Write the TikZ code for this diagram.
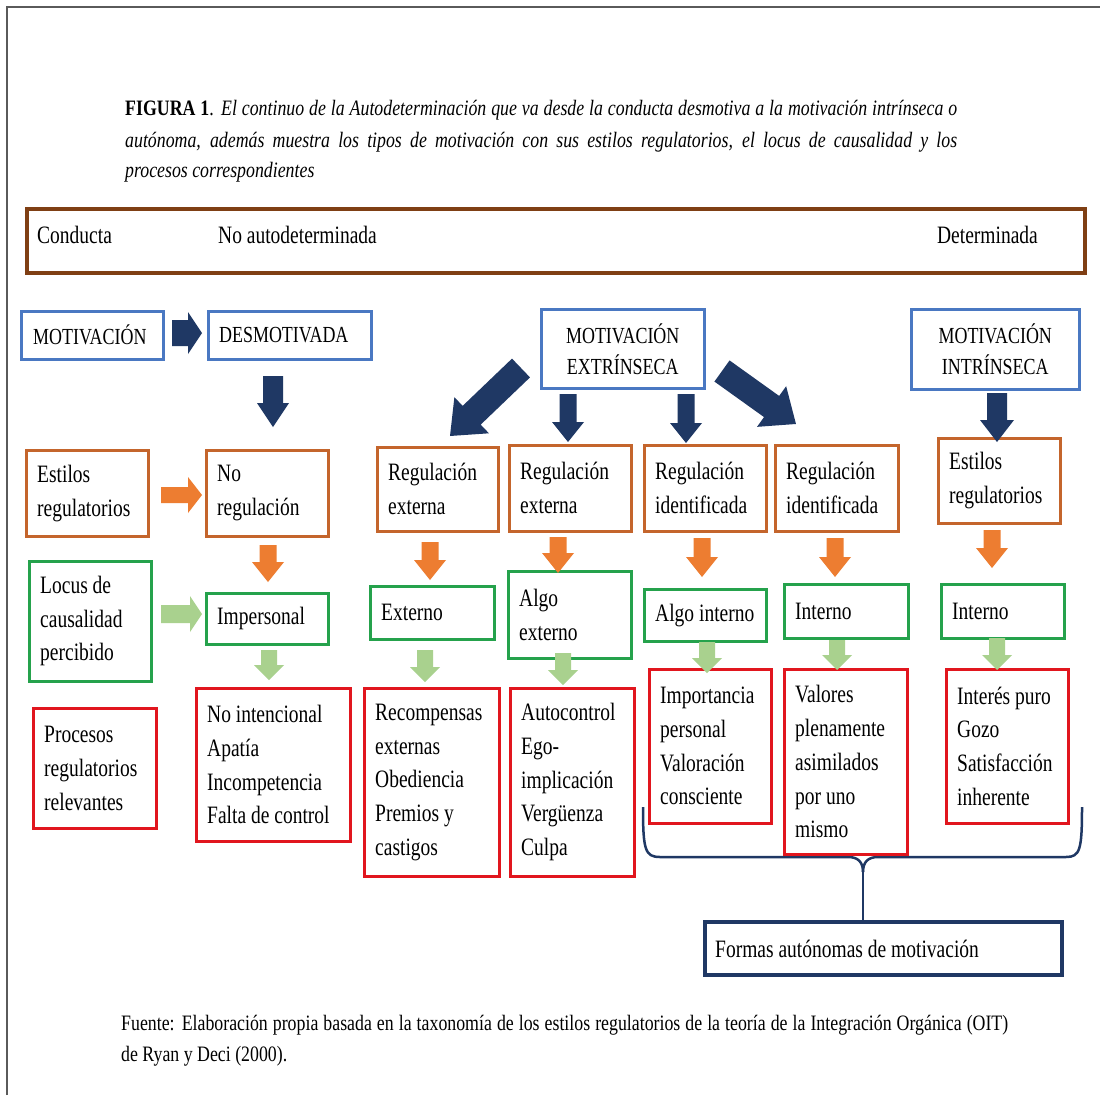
\documentclass[tikz,border=0pt]{standalone}
\usepackage{fontspec}
\setmainfont{Liberation Serif}[FakeStretch=0.78]
\newfontfamily\titlefont{Liberation Serif}[FakeStretch=0.81]
\newfontfamily\footfont{Liberation Serif}[FakeStretch=0.81]
\usetikzlibrary{calc}
\definecolor{navy}{HTML}{1F3864}
\definecolor{blueb}{HTML}{4A78C2}
\definecolor{brownb}{HTML}{7F3F14}
\definecolor{orangeb}{HTML}{C4652C}
\definecolor{orangea}{HTML}{ED7D31}
\definecolor{greenb}{HTML}{25A24C}
\definecolor{greena}{HTML}{A9D18E}
\definecolor{redb}{HTML}{E1161E}
\definecolor{framec}{HTML}{5A5A5A}
\newcommand\bodyfont{\fontsize{25}{33.7}\selectfont}
\newcommand\capsfont{\fontsize{23}{31}\selectfont}
% block arrow: start, end, shaft half width, head half width, head length, colour
\newcommand\barrow[6]{%
\fill[#6] let \p1=($(#2)-(#1)$), \n1={veclen(\x1,\y1)}, \n2={atan2(\y1,\x1)} in
([shift={(#1)},rotate=\n2]0pt,#3) -- ([shift={(#1)},rotate=\n2]\n1-#5,#3)
-- ([shift={(#1)},rotate=\n2]\n1-#5,#4) -- ([shift={(#1)},rotate=\n2]\n1,0pt)
-- ([shift={(#1)},rotate=\n2]\n1-#5,-#4) -- ([shift={(#1)},rotate=\n2]\n1-#5,-#3)
-- ([shift={(#1)},rotate=\n2]0pt,-#3) -- cycle;}
% box: name, x1, y1, x2, y2, style, text
\newcommand\bx[7]{%
\node[#6, anchor=north west, minimum width={#4-#2}, minimum height={#5-#3}] (#1) at (#2,#3) {};
\node[txt] (#1t) at ([xshift=12pt]#1.west) {#7};}
\newcommand\cbx[7]{%
\node[#6, anchor=north west, minimum width={#4-#2}, minimum height={#5-#3}] (#1) at (#2,#3) {};
\node[txt, anchor=center, align=center, font=\capsfont] (#1t) at (#1.center) {#7};}
\begin{document}
\begin{tikzpicture}[x=1pt,y=-1pt,
  boxbase/.style={draw, rectangle, inner sep=0pt, fill=white},
  bluebox/.style={boxbase, draw=blueb, line width=2.5pt},
  orangebox/.style={boxbase, draw=orangeb, line width=2.5pt},
  greenbox/.style={boxbase, draw=greenb, line width=2.5pt},
  redbox/.style={boxbase, draw=redb, line width=2.5pt},
  navybox/.style={boxbase, draw=navy, line width=4pt},
  brownbox/.style={boxbase, draw=brownb, line width=4pt},
  txt/.style={inner sep=0pt, align=left, font=\bodyfont, anchor=west},
  brace/.style={draw=navy, line width=2.5pt, line join=round}]
\useasboundingbox (0,0) rectangle (1100,1095);
\fill[white] (0,0) rectangle (1100,1095);
\draw[framec, line width=2pt] (7,1095) -- (7,7) -- (1100,7);

% title
\node[inner sep=0pt, anchor=base west, font=\titlefont\fontsize{22}{31}\selectfont] (t1) at (125,115)
  {\makebox[832pt][s]{\textbf{FIGURA 1}. \textit{El continuo de la Autodeterminación que va desde la conducta desmotiva a la motivación intrínseca o}}};
\node[inner sep=0pt, anchor=base west, font=\titlefont\fontsize{22}{31}\selectfont] (t2) at (125,147)
  {\makebox[832pt][s]{\textit{autónoma, además muestra los tipos de motivación con sus estilos regulatorios, el locus de causalidad y los}}};
\node[inner sep=0pt, anchor=base west, font=\titlefont\fontsize{22}{31}\selectfont] (t3) at (125,177)
  {\textit{procesos correspondientes}};

% conducta bar
\node[brownbox, anchor=north west, minimum width=1058, minimum height=64] (cond) at (25,207) {};
\node[inner sep=0pt, anchor=base west, font=\bodyfont] (c1) at (37,243) {Conducta};
\node[inner sep=0pt, anchor=base west, font=\bodyfont] (c2) at (218,243) {No autodeterminada};
\node[inner sep=0pt, anchor=base east, font=\bodyfont] (c3) at (1038,243) {Determinada};

% brace
\draw[brace] (643,807) .. controls (643,850) and (645,857) .. (660,857) -- (848,857)
  .. controls (858,857) and (863,862) .. (863,872);
\draw[brace] (1082,807) .. controls (1082,850) and (1080,857) .. (1066,857) -- (878,857)
  .. controls (868,857) and (863,862) .. (863,872);
\coordinate (cusp) at (863,872);

% row 1
\node[bluebox, anchor=north west, minimum width=142, minimum height=48] (mot) at (20,310) {};
\node[txt, font=\capsfont] (mott) at ([xshift=13pt]mot.west) {MOTIVACIÓN};
\node[bluebox, anchor=north west, minimum width=163, minimum height=48] (des) at (207,310) {};
\node[txt, font=\capsfont] (dest) at ([xshift=12pt]des.west) {DESMOTIVADA};
\cbx{ext}{540}{308}{703}{387}{bluebox}{MOTIVACIÓN\\EXTRÍNSECA}
\cbx{int}{910}{308}{1078}{388}{bluebox}{MOTIVACIÓN\\INTRÍNSECA}

% row 2
\bx{est1}{25}{449}{147}{535}{orangebox}{Estilos\\regulatorios}
\bx{noreg}{205}{449}{327}{535}{orangebox}{No\\regulación}
\bx{re1}{376}{446}{497}{530}{orangebox}{Regulación\\externa}
\bx{re2}{508}{444}{630}{530}{orangebox}{Regulación\\externa}
\bx{ri1}{643}{444}{765}{530}{orangebox}{Regulación\\identificada}
\bx{ri2}{774}{444}{897}{530}{orangebox}{Regulación\\identificada}
\bx{est2}{937}{437}{1059}{522}{orangebox}{Estilos\\regulatorios}

% row 3
\bx{loc}{28}{560}{150}{680}{greenbox}{Locus de\\causalidad\\percibido}
\bx{imp}{205}{592}{327}{643}{greenbox}{Impersonal}
\bx{ex1}{369}{585}{493}{638}{greenbox}{Externo}
\bx{aext}{507}{570}{630}{657}{greenbox}{Algo\\externo}
\bx{aint}{643}{588}{765}{640}{greenbox}{Algo interno}
\bx{in1}{783}{583}{907}{637}{greenbox}{Interno}
\bx{in2}{940}{583}{1063}{637}{greenbox}{Interno}

% row 4
\bx{proc}{32}{707}{155}{827}{redbox}{Procesos\\regulatorios\\relevantes}
\bx{p1}{195}{687}{349}{840}{redbox}{No intencional\\Apatía\\Incompetencia\\Falta de control}
\bx{p2}{363}{687}{498}{875}{redbox}{Recompensas\\externas\\Obediencia\\Premios y\\castigos}
\bx{p3}{509}{687}{633}{875}{redbox}{Autocontrol\\Ego-\\implicación\\Vergüenza\\Culpa}
\bx{p4}{648}{668}{770}{822}{redbox}{Importancia\\personal\\Valoración\\consciente}
\bx{p5}{783}{668}{906}{853}{redbox}{Valores\\plenamente\\asimilados\\por uno\\mismo}
\bx{p6}{945}{668}{1067}{822}{redbox}{Interés puro\\Gozo\\Satisfacción\\inherente}

% autonomous forms
\node[navybox, anchor=north west, minimum width=357, minimum height=53] (fam) at (703,920) {};
\node[txt] (famt) at ([xshift=12pt]fam.west) {Formas autónomas de motivación};
\draw[brace] (cusp) -- (cusp |- fam.north);

% navy arrows
\barrow{172,333}{202,333}{13pt}{21pt}{14pt}{navy}
\barrow{273,376}{273,427}{10pt}{16pt}{24pt}{navy}
\barrow{521,368}{450,436}{13pt}{25pt}{30pt}{navy}
\barrow{568,394}{568,442}{8.5pt}{16pt}{20pt}{navy}
\barrow{686,394}{686,443}{8.5pt}{16pt}{20pt}{navy}
\barrow{722,371}{796,424}{13pt}{25pt}{30pt}{navy}
\barrow{997,393}{997,442}{10pt}{17pt}{22pt}{navy}

% orange arrows
\barrow{161,495}{202,495}{8pt}{18pt}{14pt}{orangea}
\barrow{268,545}{268,582}{8.5pt}{16pt}{20pt}{orangea}
\barrow{430,542}{430,580}{8.5pt}{16pt}{20pt}{orangea}
\barrow{558,537}{558,573}{8.5pt}{16pt}{20pt}{orangea}
\barrow{702,538}{702,577}{8.5pt}{16pt}{20pt}{orangea}
\barrow{835,538}{835,577}{8.5pt}{16pt}{20pt}{orangea}
\barrow{992,530}{992,568}{8.5pt}{16pt}{20pt}{orangea}

% green arrows
\barrow{161,614}{202,614}{9pt}{18pt}{12pt}{greena}
\barrow{269,650}{269,680}{8pt}{15pt}{15pt}{greena}
\barrow{425,650}{425,682}{8pt}{15pt}{15pt}{greena}
\barrow{563,653}{563,685}{8pt}{15pt}{15pt}{greena}
\barrow{707,642}{707,673}{8pt}{15pt}{15pt}{greena}
\barrow{837,640}{837,670}{8pt}{15pt}{15pt}{greena}
\barrow{997,638}{997,670}{8pt}{15pt}{15pt}{greena}

% footer
\node[inner sep=0pt, anchor=base west, font=\footfont\fontsize{22}{30}\selectfont] (f1) at (121,1030)
  {\makebox[887pt][s]{Fuente: Elaboración propia basada en la taxonomía de los estilos regulatorios de la teoría de la Integración Orgánica (OIT)}};
\node[inner sep=0pt, anchor=base west, font=\footfont\fontsize{22}{30}\selectfont] (f2) at (121,1061)
  {de Ryan y Deci (2000).};
\end{tikzpicture}
\end{document}
